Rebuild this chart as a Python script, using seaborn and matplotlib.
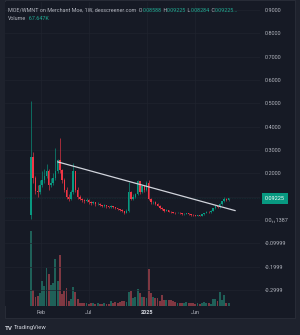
import numpy as np
import pandas as pd
import matplotlib
matplotlib.use('Agg')
import matplotlib.pyplot as plt
import matplotlib.dates as mdates
from matplotlib.patches import Rectangle
import seaborn as sns

sns.set_style('dark')
plt.rcParams['font.family'] = ['Roboto', 'DejaVu Sans']

# weekly candles MOE/WMNT
dates = pd.date_range('2024-01-01', periods=90, freq='7D')

opens = [0.02, 0.27, 0.18, 0.125, 0.12, 0.15, 0.17, 0.19, 0.21, 0.15,
         0.16, 0.18, 0.21, 0.255, 0.215, 0.17, 0.13, 0.10, 0.09, 0.12,
         0.21, 0.13, 0.10, 0.09, 0.085, 0.08, 0.085, 0.078, 0.072, 0.075,
         0.068, 0.07, 0.064, 0.06, 0.063, 0.058, 0.055, 0.06, 0.055, 0.05,
         0.047, 0.043, 0.037, 0.03, 0.04, 0.12, 0.09, 0.10, 0.11, 0.165,
         0.12, 0.145, 0.13, 0.16, 0.09, 0.075, 0.078, 0.07, 0.062, 0.052,
         0.045, 0.04, 0.042, 0.036, 0.034, 0.032, 0.03, 0.032, 0.028, 0.024,
         0.026, 0.028, 0.025, 0.022, 0.02, 0.018, 0.021, 0.019, 0.024, 0.03,
         0.035, 0.033, 0.04, 0.05, 0.058, 0.055, 0.07, 0.08, 0.09, 0.08588]
closes = [0.27, 0.18, 0.125, 0.12, 0.15, 0.17, 0.19, 0.21, 0.15, 0.16,
          0.18, 0.21, 0.255, 0.215, 0.17, 0.13, 0.10, 0.09, 0.12, 0.21,
          0.13, 0.10, 0.09, 0.085, 0.08, 0.085, 0.078, 0.072, 0.075, 0.068,
          0.07, 0.064, 0.06, 0.063, 0.058, 0.055, 0.06, 0.055, 0.05, 0.047,
          0.043, 0.037, 0.03, 0.04, 0.12, 0.09, 0.10, 0.11, 0.165, 0.12,
          0.145, 0.13, 0.16, 0.09, 0.075, 0.078, 0.07, 0.062, 0.052, 0.045,
          0.04, 0.042, 0.036, 0.034, 0.032, 0.03, 0.032, 0.028, 0.024, 0.026,
          0.028, 0.025, 0.022, 0.02, 0.018, 0.021, 0.019, 0.024, 0.03, 0.035,
          0.033, 0.04, 0.05, 0.058, 0.055, 0.07, 0.08, 0.09, 0.08588, 0.09225]
highs = [0.51, 0.29, 0.19, 0.15, 0.17, 0.21, 0.22, 0.24, 0.22, 0.18,
         0.20, 0.31, 0.26, 0.35, 0.22, 0.18, 0.14, 0.11, 0.13, 0.245,
         0.21, 0.14, 0.105, 0.095, 0.09, 0.095, 0.088, 0.08, 0.08, 0.077,
         0.075, 0.072, 0.066, 0.067, 0.065, 0.06, 0.063, 0.062, 0.057, 0.052,
         0.049, 0.045, 0.04, 0.045, 0.162, 0.125, 0.11, 0.115, 0.17, 0.165,
         0.15, 0.15, 0.165, 0.17, 0.095, 0.082, 0.08, 0.072, 0.064, 0.054,
         0.047, 0.045, 0.044, 0.038, 0.036, 0.034, 0.035, 0.033, 0.029, 0.028,
         0.03, 0.03, 0.026, 0.024, 0.022, 0.023, 0.022, 0.026, 0.032, 0.037,
         0.037, 0.042, 0.052, 0.06, 0.06, 0.072, 0.083, 0.10, 0.093, 0.09225]
lows = [0.005, 0.16, 0.11, 0.10, 0.11, 0.14, 0.16, 0.18, 0.13, 0.14,
        0.15, 0.17, 0.20, 0.20, 0.16, 0.12, 0.09, 0.08, 0.085, 0.11,
        0.12, 0.09, 0.085, 0.078, 0.074, 0.076, 0.07, 0.066, 0.068, 0.062,
        0.064, 0.06, 0.055, 0.057, 0.053, 0.05, 0.052, 0.05, 0.046, 0.043,
        0.039, 0.033, 0.026, 0.029, 0.036, 0.085, 0.085, 0.095, 0.105, 0.11,
        0.115, 0.12, 0.125, 0.085, 0.07, 0.07, 0.066, 0.058, 0.048, 0.041,
        0.036, 0.037, 0.033, 0.03, 0.028, 0.026, 0.028, 0.025, 0.02, 0.022,
        0.024, 0.022, 0.019, 0.017, 0.015, 0.017, 0.016, 0.018, 0.022, 0.028,
        0.029, 0.031, 0.038, 0.047, 0.05, 0.053, 0.066, 0.078, 0.08, 0.08284]
volumes = [1875, 400, 225, 250, 325, 625, 500, 950, 800, 525,
           575, 1175, 625, 1275, 300, 375, 450, 125, 175, 475,
           350, 175, 75, 75, 75, 75, 50, 75, 75, 50,
           75, 50, 50, 75, 50, 50, 125, 75, 100, 75,
           100, 125, 125, 100, 350, 375, 200, 225, 425, 325,
           225, 225, 200, 925, 325, 225, 200, 200, 125, 275,
           150, 150, 150, 150, 125, 100, 75, 75, 75, 75,
           100, 75, 75, 75, 50, 75, 50, 75, 100, 75,
           75, 50, 175, 175, 125, 350, 150, 275, 75, 67.647]

# trend line drawing (two anchors)
trend_dates = ['2024-03-25', '2025-10-06']
trend_prices = [0.249, 0.040]

price_ticks = [0.9, 0.8, 0.7, 0.6, 0.5, 0.4, 0.3, 0.2, 0.1, 0.0, -0.1, -0.2, -0.3]
price_labels = ['0.9000', '0.8000', '0.7000', '0.6000', '0.5000', '0.4000', '0.3000',
                '0.2000', '', '0.0\u2081\u20811387', '-0.09999', '-0.1999', '-0.2999']
time_ticks = ['2024-02-01', '2024-07-01', '2025-01-01', '2025-06-01']
time_labels = ['Feb', 'Jul', '2025', 'Jun']
last_price = 0.09225

header = [('MOE/WMNT on Merchant Moe, 1W, dexscreener.com', 'label'), ('  O', 'label'),
          ('0.08588', 'value'), (' H', 'label'), ('0.09225', 'value'), (' L', 'label'),
          ('0.08284', 'value'), (' C', 'label'), ('0.09225...', 'value')]
volume_header = [('Volume', 'label'), ('  67.647K', 'value')]

BG = '#161a25'
UP = '#089981'
DOWN = '#f23645'
TXT = '#b2b5be'
GRID = '#20242f'
TXT_COL = {'label': TXT, 'value': '#22ab94'}

W, H = 300, 335
fig = plt.figure(figsize=(3.0, 3.35), dpi=100)
fig.patch.set_facecolor('#1e222d')
fig.patches.append(Rectangle((5 / W, 1 - 318 / H), 290 / W, 318 / H, transform=fig.transFigure,
                             facecolor=BG, edgecolor='#2a2e39', lw=0.6, zorder=-10))

axv = fig.add_axes([5 / W, 1 - 306 / H, 255 / W, 304 / H])
axv.set_facecolor(BG)
ax = axv.twinx()

xd = mdates.date2num(dates)
o = np.array(opens)
c = np.array(closes)
up = c >= o
cols = np.where(up, UP, DOWN)

# volume overlay
vol = pd.DataFrame({'date': xd, 'volume': volumes, 'dir': np.where(up, 'up', 'down')})
sns.barplot(data=vol, x='date', y='volume', hue='dir', native_scale=True, dodge=False,
            palette={'up': '#146b60', 'down': '#8b2c3a'}, errorbar=None, linewidth=0,
            width=0.85, legend=False, ax=axv)
axv.set_ylim(0, max(volumes) * 304 / 75)
axv.set_yticks([])
axv.set_xlabel('')
axv.set_ylabel('')

# candles
ax.vlines(xd, lows, highs, colors=cols, lw=0.45, zorder=3)
ax.bar(xd, c - o, bottom=o, width=4.6, color=cols, linewidth=0, zorder=4)

# trend line + last price line
ax.plot(mdates.date2num(pd.to_datetime(trend_dates)), trend_prices, color='#d1d4dc', lw=0.9, zorder=5)
ax.axhline(last_price, color=UP, lw=0.4, ls=(0, (1, 2)), alpha=0.35, zorder=2)

ax.set_ylim(-0.3686, 0.934)
ax.set_yticks(price_ticks)
ax.set_yticklabels(price_labels)
ax.tick_params(axis='y', length=0, pad=3.6, labelsize=4, labelcolor=TXT)
ax.grid(axis='y', color=GRID, lw=0.5)
ax.set_axisbelow(True)

x0 = mdates.date2num(pd.Timestamp('2024-01-01'))
axv.set_xlim(x0 - 82, x0 + 722)
axv.set_xticks(mdates.date2num(pd.to_datetime(time_ticks)))
axv.set_xticklabels(time_labels)
axv.tick_params(axis='x', length=0, pad=3.0, labelsize=4, labelcolor=TXT)
axv.get_xticklabels()[2].set_fontweight('bold')
axv.get_xticklabels()[2].set_color('#d1d4dc')
axv.grid(axis='x', color=GRID, lw=0.5)

for a in (ax, axv):
    for s in a.spines.values():
        s.set_visible(False)

# price badge
ax.annotate('0.09225', xy=(1, last_price), xycoords=('axes fraction', 'data'),
            xytext=(3.6, 0), textcoords='offset points', ha='left', va='center',
            fontsize=4, color='white',
            bbox=dict(boxstyle='square,pad=0.55', fc=UP, ec='none'), annotation_clip=False)


def chain(pieces, y):
    t = fig.text(8 / W, 1 - y / H, pieces[0][0], fontsize=3.85, color=TXT_COL[pieces[0][1]],
                 va='center', ha='left')
    for s, kind in pieces[1:]:
        t = ax.annotate(s, xy=(1, 0.5), xycoords=t, va='center', ha='left',
                        fontsize=3.85, color=TXT_COL[kind], annotation_clip=False)


chain(header, 10)
chain(volume_header, 19)

# TradingView mark
fig.text(5 / W, 1 - 328 / H, 'TV', fontsize=4.5, fontweight='bold', color='#d1d4dc', va='center')
fig.text(14 / W, 1 - 328 / H, 'TradingView', fontsize=4.2, color='#d1d4dc', va='center')

fig.savefig('out.png', dpi=100, facecolor=fig.get_facecolor())
